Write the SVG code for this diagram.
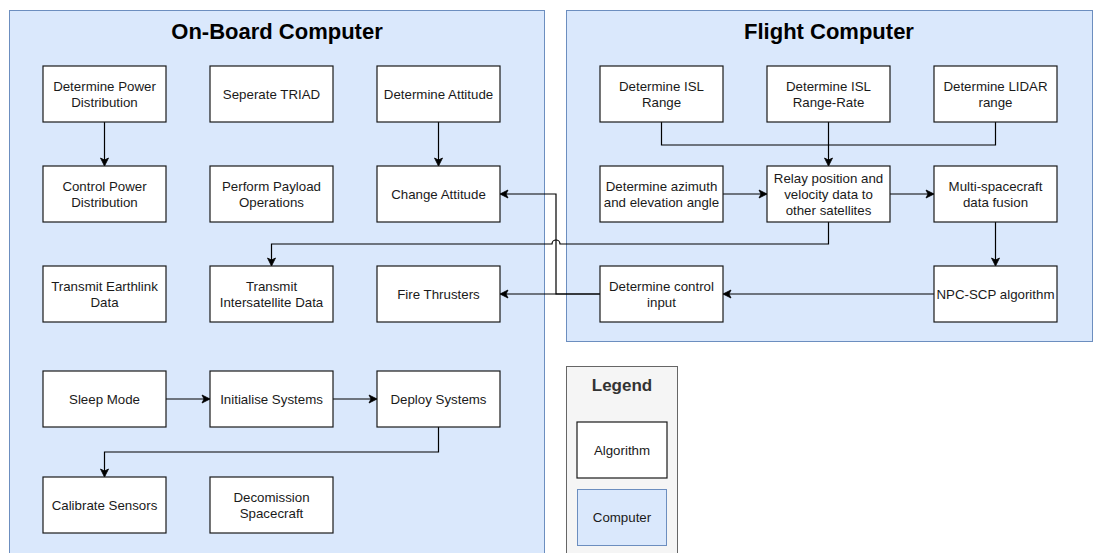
<svg xmlns="http://www.w3.org/2000/svg" width="1093" height="553" viewBox="0 0 1093 553">
  <style>
    .container { fill: #dae8fc; stroke: #6c8ebf; stroke-width: 1; }
    .box { fill: #ffffff; stroke: #1a1a1a; stroke-width: 1.2; }
    .label { font-family: "Liberation Sans", Arial, sans-serif; font-size: 13.3px; fill: #1a1a1a; text-anchor: middle; }
    .title { font-family: "Liberation Sans", Arial, sans-serif; font-size: 22px; font-weight: bold; fill: #000000; text-anchor: middle; }
    .edge { fill: none; stroke: #000000; stroke-width: 1.2; }
    .legend-frame { fill: #f5f5f5; stroke: #666666; stroke-width: 1; }
    .legend-title { font-family: "Liberation Sans", Arial, sans-serif; font-size: 17px; font-weight: bold; fill: #333333; text-anchor: middle; }
  </style>
  <defs>
    <marker id="arrow" markerUnits="userSpaceOnUse" markerWidth="10" markerHeight="10" viewBox="0 0 10 10" refX="9" refY="5" orient="auto">
      <path d="M1,1 L9,5 L1,9 L3,5 Z" fill="#000000" stroke="#000000" stroke-width="0.8"/>
    </marker>
  </defs>

  <!-- containers -->
  <g id="onboard-computer">
    <rect class="container" x="9.5" y="10.5" width="535" height="560"/>
    <text class="title" x="277" y="39">On-Board Computer</text>
  </g>
  <g id="flight-computer">
    <rect class="container" x="566.5" y="10.5" width="526" height="331"/>
    <text class="title" x="829" y="39">Flight Computer</text>
  </g>

  <!-- connectors -->
  <g id="connectors">
    <path class="edge" d="M104.5,122 V166" marker-end="url(#arrow)"/>
    <path class="edge" d="M438.5,122 V166" marker-end="url(#arrow)"/>
    <path class="edge" d="M600,294 H500" marker-end="url(#arrow)"/>
    <path class="edge" d="M600,294 H556 V194 H500" marker-end="url(#arrow)"/>
    <path class="edge" d="M828.5,222 V244 H560 A4,4 0 0 0 552,244 H271.5 V266" marker-end="url(#arrow)"/>
    <path class="edge" d="M661.5,122 V145 H828.5"/>
    <path class="edge" d="M995.5,122 V145 H828.5"/>
    <path class="edge" d="M828.5,122 V166" marker-end="url(#arrow)"/>
    <path class="edge" d="M723,194 H767" marker-end="url(#arrow)"/>
    <path class="edge" d="M890,194 H934" marker-end="url(#arrow)"/>
    <path class="edge" d="M995.5,222 V266" marker-end="url(#arrow)"/>
    <path class="edge" d="M934,294 H723" marker-end="url(#arrow)"/>
    <path class="edge" d="M166,399 H210" marker-end="url(#arrow)"/>
    <path class="edge" d="M333,399 H377" marker-end="url(#arrow)"/>
    <path class="edge" d="M438.5,427 V452 H104.5 V477" marker-end="url(#arrow)"/>
  </g>

  <!-- on-board computer tasks -->
  <g id="determine-power-distribution">
    <rect class="box" x="43" y="66" width="123" height="56"/>
    <text class="label" x="104.5" y="90.5">Determine Power</text>
    <text class="label" x="104.5" y="106.5">Distribution</text>
  </g>
  <g id="seperate-triad">
    <rect class="box" x="210" y="66" width="123" height="56"/>
    <text class="label" x="271.5" y="98.5">Seperate TRIAD</text>
  </g>
  <g id="determine-attitude">
    <rect class="box" x="377" y="66" width="123" height="56"/>
    <text class="label" x="438.5" y="98.5">Determine Attitude</text>
  </g>
  <g id="control-power-distribution">
    <rect class="box" x="43" y="166" width="123" height="56"/>
    <text class="label" x="104.5" y="190.5">Control Power</text>
    <text class="label" x="104.5" y="206.5">Distribution</text>
  </g>
  <g id="perform-payload-operations">
    <rect class="box" x="210" y="166" width="123" height="56"/>
    <text class="label" x="271.5" y="190.5">Perform Payload</text>
    <text class="label" x="271.5" y="206.5">Operations</text>
  </g>
  <g id="change-attitude">
    <rect class="box" x="377" y="166" width="123" height="56"/>
    <text class="label" x="438.5" y="198.5">Change Attitude</text>
  </g>
  <g id="transmit-earthlink-data">
    <rect class="box" x="43" y="266" width="123" height="56"/>
    <text class="label" x="104.5" y="290.5">Transmit Earthlink</text>
    <text class="label" x="104.5" y="306.5">Data</text>
  </g>
  <g id="transmit-intersatellite-data">
    <rect class="box" x="210" y="266" width="123" height="56"/>
    <text class="label" x="271.5" y="290.5">Transmit</text>
    <text class="label" x="271.5" y="306.5">Intersatellite Data</text>
  </g>
  <g id="fire-thrusters">
    <rect class="box" x="377" y="266" width="123" height="56"/>
    <text class="label" x="438.5" y="298.5">Fire Thrusters</text>
  </g>
  <g id="sleep-mode">
    <rect class="box" x="43" y="371" width="123" height="56"/>
    <text class="label" x="104.5" y="403.5">Sleep Mode</text>
  </g>
  <g id="initialise-systems">
    <rect class="box" x="210" y="371" width="123" height="56"/>
    <text class="label" x="271.5" y="403.5">Initialise Systems</text>
  </g>
  <g id="deploy-systems">
    <rect class="box" x="377" y="371" width="123" height="56"/>
    <text class="label" x="438.5" y="403.5">Deploy Systems</text>
  </g>
  <g id="calibrate-sensors">
    <rect class="box" x="43" y="477" width="123" height="56"/>
    <text class="label" x="104.5" y="509.5">Calibrate Sensors</text>
  </g>
  <g id="decomission-spacecraft">
    <rect class="box" x="210" y="477" width="123" height="56"/>
    <text class="label" x="271.5" y="501.5">Decomission</text>
    <text class="label" x="271.5" y="517.5">Spacecraft</text>
  </g>

  <!-- flight computer tasks -->
  <g id="determine-isl-range">
    <rect class="box" x="600" y="66" width="123" height="56"/>
    <text class="label" x="661.5" y="90.5">Determine ISL</text>
    <text class="label" x="661.5" y="106.5">Range</text>
  </g>
  <g id="determine-isl-range-rate">
    <rect class="box" x="767" y="66" width="123" height="56"/>
    <text class="label" x="828.5" y="90.5">Determine ISL</text>
    <text class="label" x="828.5" y="106.5">Range-Rate</text>
  </g>
  <g id="determine-lidar-range">
    <rect class="box" x="934" y="66" width="123" height="56"/>
    <text class="label" x="995.5" y="90.5">Determine LIDAR</text>
    <text class="label" x="995.5" y="106.5">range</text>
  </g>
  <g id="determine-azimuth-elevation">
    <rect class="box" x="600" y="166" width="123" height="56"/>
    <text class="label" x="661.5" y="190.5">Determine azimuth</text>
    <text class="label" x="661.5" y="206.5">and elevation angle</text>
  </g>
  <g id="relay-position-velocity">
    <rect class="box" x="767" y="166" width="123" height="56"/>
    <text class="label" x="828.5" y="182.5">Relay position and</text>
    <text class="label" x="828.5" y="198.5">velocity data to</text>
    <text class="label" x="828.5" y="214.5">other satellites</text>
  </g>
  <g id="multi-spacecraft-data-fusion">
    <rect class="box" x="934" y="166" width="123" height="56"/>
    <text class="label" x="995.5" y="190.5">Multi-spacecraft</text>
    <text class="label" x="995.5" y="206.5">data fusion</text>
  </g>
  <g id="determine-control-input">
    <rect class="box" x="600" y="266" width="123" height="56"/>
    <text class="label" x="661.5" y="290.5">Determine control</text>
    <text class="label" x="661.5" y="306.5">input</text>
  </g>
  <g id="npc-scp-algorithm">
    <rect class="box" x="934" y="266" width="123" height="56"/>
    <text class="label" x="995.5" y="298.5">NPC-SCP algorithm</text>
  </g>

  <!-- legend -->
  <g id="legend">
    <rect class="legend-frame" x="566.5" y="366.5" width="111" height="200"/>
    <text class="legend-title" x="622" y="391">Legend</text>
    <rect class="box" x="577" y="422" width="90" height="56"/>
    <text class="label" x="622" y="454.5">Algorithm</text>
    <rect class="container" x="577.5" y="489.5" width="89" height="56"/>
    <text class="label" x="622" y="521.5">Computer</text>
  </g>
</svg>
